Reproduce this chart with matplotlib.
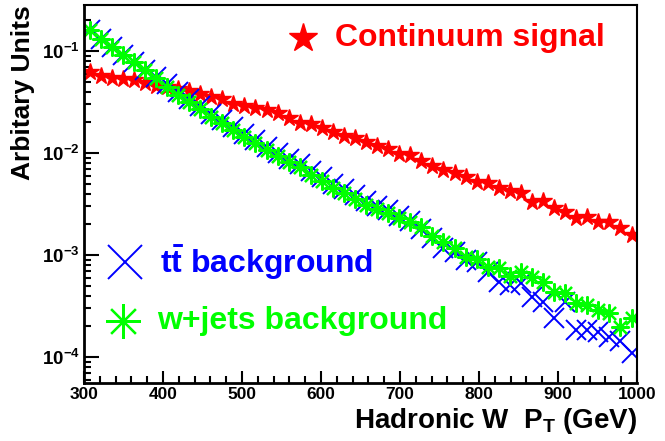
import numpy as np
import matplotlib
matplotlib.use("Agg")
import matplotlib.pyplot as plt
from matplotlib.ticker import LogLocator, FuncFormatter, NullFormatter, MultipleLocator

plt.rcParams['font.family'] = ['Liberation Sans', 'DejaVu Sans']
plt.rcParams['font.weight'] = 'bold'
plt.rcParams['mathtext.fontset'] = 'custom'
plt.rcParams['mathtext.rm'] = 'Liberation Sans:bold'
plt.rcParams['mathtext.it'] = 'Liberation Sans:bold'
plt.rcParams['mathtext.bf'] = 'Liberation Sans:bold'

# 50 bins of 14 GeV between 300 and 1000 GeV
bin_lo = 300
bin_width = 14
n_bins = 50

continuum = [0.0622, 0.0569, 0.0543, 0.0531, 0.0520, 0.0486, 0.0454, 0.0444, 0.0424, 0.0405,
             0.0379, 0.0354, 0.0338, 0.0302, 0.0289, 0.0276, 0.0264, 0.0247, 0.0220, 0.0197,
             0.0192, 0.0176, 0.0161, 0.0147, 0.0140, 0.0128, 0.0117, 0.0109, 0.00977, 0.00955,
             0.00835, 0.00746, 0.00681, 0.00637, 0.00582, 0.00520, 0.00508, 0.00454, 0.00424, 0.00405,
             0.00331, 0.00338, 0.00289, 0.00264, 0.00231, 0.00236, 0.00211, 0.00211, 0.00184, 0.00157]

ttbar = [0.1607, 0.1312, 0.1094, 0.0914, 0.0780, 0.0651, 0.0556, 0.0475, 0.0396, 0.0338,
         0.0289, 0.0241, 0.0211, 0.0180, 0.0154, 0.0134, 0.0115, 0.0100, 0.00873, 0.00780,
         0.00667, 0.00582, 0.00497, 0.00444, 0.00387, 0.00338, 0.00302, 0.00276, 0.00241, 0.00215,
         0.00180, 0.00147, 0.00117, 0.00107, 0.000893, 0.000853, 0.000681, 0.000543, 0.000508, 0.000531,
         0.000387, 0.000346, 0.000241, 0.000346, 0.000184, 0.000184, 0.000176, 0.000157, 0.000144, 0.000109]

wjets = [0.1607, 0.1312, 0.1094, 0.0914, 0.0780, 0.0651, 0.0543, 0.0444, 0.0371, 0.0316,
         0.0270, 0.0225, 0.0197, 0.0168, 0.0144, 0.0125, 0.0107, 0.00935, 0.00817, 0.00730,
         0.00608, 0.00531, 0.00454, 0.00405, 0.00354, 0.00309, 0.00282, 0.00258, 0.00231, 0.00211,
         0.00188, 0.00154, 0.00134, 0.00117, 0.000955, 0.000914, 0.000762, 0.000746, 0.000623, 0.000681,
         0.000608, 0.000543, 0.000433, 0.000424, 0.000338, 0.000323, 0.000289, 0.000270, 0.000197, 0.000241]

x = bin_lo + bin_width * (np.arange(n_bins) + 0.5)

fig = plt.figure(figsize=(6.65, 4.41), dpi=100)
ax = fig.add_axes([0.1263, 0.1315, 0.8317, 0.8572])

red = '#ff0000'
blue = '#0000ff'
green = '#00ff00'

ax.plot(x, continuum, ls='none', marker='*', ms=13, color=red, mec=red)
ax.plot(x, ttbar, ls='none', marker='x', ms=14, mew=1.4, color=blue)
ax.plot(x, wjets, ls='none', marker=(8, 2, 0), ms=13, mew=1.6, color=green)

ax.set_yscale('log')
ax.set_xlim(300, 1000)
ax.set_ylim(5.56e-5, 0.2825)

ax.xaxis.set_major_locator(MultipleLocator(100))
ax.xaxis.set_minor_locator(MultipleLocator(20))
ax.yaxis.set_major_locator(LogLocator(base=10))
ax.yaxis.set_minor_locator(LogLocator(base=10, subs=np.arange(2, 10)))
ax.yaxis.set_minor_formatter(NullFormatter())
ax.yaxis.set_major_formatter(FuncFormatter(lambda v, p: r"$10^{%d}$" % round(np.log10(v))))

ax.tick_params(axis='both', which='both', direction='in', top=False, right=False, width=1.5)
ax.tick_params(axis='x', which='major', length=8.6, labelsize=12.5, pad=3)
ax.tick_params(axis='x', which='minor', length=5)
ax.tick_params(axis='y', which='major', length=10.8, labelsize=13.5, pad=3)
ax.tick_params(axis='y', which='minor', length=5)

ax.spines['left'].set_linewidth(2.0)
ax.spines['bottom'].set_linewidth(2.0)
ax.spines['top'].set_linewidth(1.5)
ax.spines['right'].set_linewidth(1.5)

ax.set_xlabel(r"Hadronic W  P$_{T}$ (GeV)", fontsize=20, fontweight='bold', loc='right', labelpad=3)
ax.set_ylabel("Arbitary Units", fontsize=19, fontweight='bold', loc='top', labelpad=5)

# hand-placed legend entries
ax.plot([0.396], [0.913], transform=ax.transAxes, marker='*', ms=21, color=red, ls='none')
ax.text(0.454, 0.913, "Continuum signal", transform=ax.transAxes, color=red,
        fontsize=23, fontweight='bold', va='center', ha='left')

ax.plot([0.074], [0.320], transform=ax.transAxes, marker='x', ms=25, mew=1.4, color=blue, ls='none')
ax.text(0.137, 0.320, r"$t\bar{t}$ background", transform=ax.transAxes, color=blue,
        fontsize=23, fontweight='bold', va='center', ha='left')

ax.plot([0.0705], [0.164], transform=ax.transAxes, marker=(8, 2, 0), ms=25, mew=1.6, color=green, ls='none')
ax.text(0.132, 0.164, "w+jets background", transform=ax.transAxes, color=green,
        fontsize=23, fontweight='bold', va='center', ha='left')

fig.savefig("out.png", dpi=100)
